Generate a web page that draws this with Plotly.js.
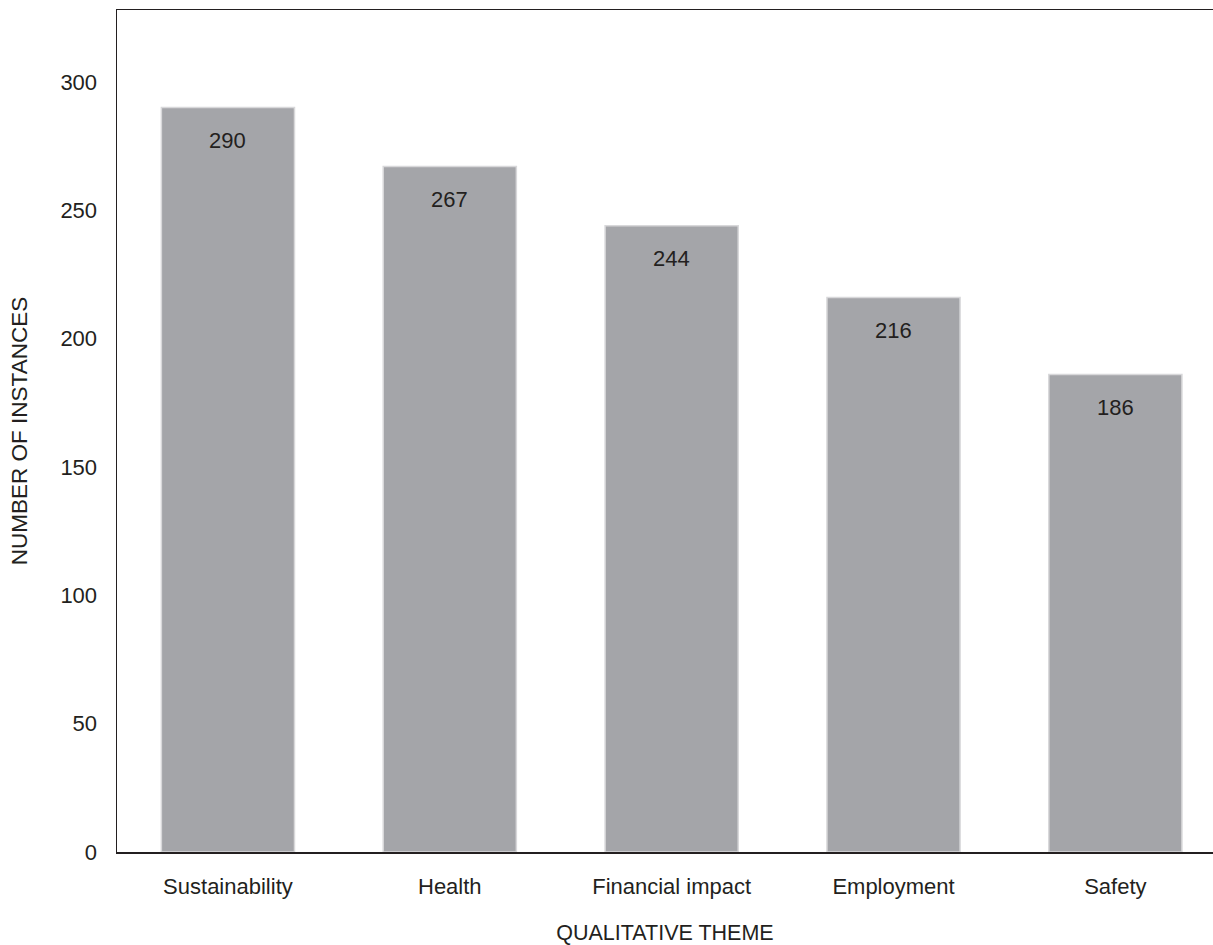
<!DOCTYPE html>
<html><head><meta charset="utf-8">
<script src="https://cdn.plot.ly/plotly-3.0.1.min.js"></script>
<style>html,body{margin:0;padding:0;background:#fff;overflow:hidden}</style>
</head><body><div id="chart" style="width:1213px;height:945px"></div>
<script>
const categories = ["Sustainability", "Health", "Financial impact", "Employment", "Safety"];
const instances = [290, 267, 244, 216, 186];
const yTicks = [0, 50, 100, 150, 200, 250, 300];

const font = "Liberation Sans, Arial, Helvetica, sans-serif";
const trace = {
  type: "bar",
  x: categories,
  y: instances,
  marker: {color: "#a4a5a9", line: {color: "#d8d8da", width: 1.5}},
  width: 0.6,
  hoverinfo: "skip"
};
const annotations = categories.map((c, i) => ({
  x: c, y: instances[i], xref: "x", yref: "y",
  text: String(instances[i]), showarrow: false,
  yanchor: "middle", yshift: -33,
  font: {family: font, size: 22, color: "#231f20"}
}));
const layout = {
  width: 1213, height: 945,
  margin: {l: 117, r: 0, t: 10, b: 93},
  paper_bgcolor: "#fff", plot_bgcolor: "#fff",
  showlegend: false,
  font: {family: font, color: "#231f20"},
  xaxis: {
    type: "category", range: [-0.5, 4.44],
    showline: true, linecolor: "#231f20", linewidth: 1.5, mirror: true,
    showgrid: false, ticks: "", zeroline: false,
    ticklabelstandoff: 14,
    tickfont: {family: font, size: 22, color: "#231f20"},
    title: {text: "QUALITATIVE THEME", font: {family: font, size: 21.5, color: "#231f20"}, standoff: 36}
  },
  yaxis: {
    range: [0, 328], tickvals: yTicks, ticktext: yTicks.map(String),
    showline: true, linecolor: "#231f20", linewidth: 1.5,
    showgrid: false, ticks: "", zeroline: false,
    ticklabelstandoff: 14,
    tickfont: {family: font, size: 22, color: "#231f20"},
    title: {text: "NUMBER OF INSTANCES", font: {family: font, size: 22.5, color: "#231f20"}, standoff: 26}
  },
  annotations: annotations
};
Plotly.newPlot("chart", [trace], layout, {displayModeBar: false, staticPlot: true});
</script></body></html>
